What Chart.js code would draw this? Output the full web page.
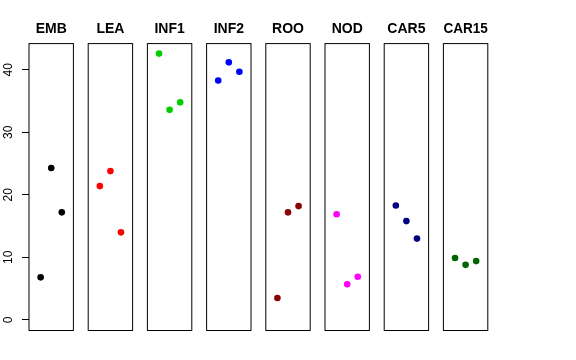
<!DOCTYPE html>
<html><head><meta charset="utf-8">
<script src="https://cdn.jsdelivr.net/npm/chart.js@4"></script>
<style>
html,body{margin:0;padding:0;background:#fff;width:576px;height:360px;overflow:hidden;position:relative}
canvas{position:absolute;top:0}
</style>
</head><body>
<script>
// ---- data ----
const categories = ['EMB', 'LEA', 'INF1', 'INF2', 'ROO', 'NOD', 'CAR5', 'CAR15'];
const EMB   = [6.8, 24.3, 17.2];
const LEA   = [21.4, 23.8, 14.0];
const INF1  = [42.6, 33.6, 34.8];
const INF2  = [38.3, 41.2, 39.7];
const ROO   = [3.5, 17.2, 18.2];
const NOD   = [16.9, 5.7, 6.9];
const CAR5  = [18.3, 15.8, 13.0];
const CAR15 = [9.9, 8.8, 9.4];
const seriesValues = [EMB, LEA, INF1, INF2, ROO, NOD, CAR5, CAR15];
const seriesColors = ['#000000', '#FF0000', '#00CD00', '#0000FF', '#8B0000', '#FF00FF', '#000080', '#006400'];
const yTicks = [0, 10, 20, 30, 40];
const yMin = -1.7, yMax = 44.2;

// ---- layout ----
const H = 360;
const firstLeft = 29, step = 59.2, panelW = 44.4;
const areaTop = 43.6, areaBottom = 330.5;

const boxPlugin = {
  id: 'box',
  beforeDatasetsDraw(chart) {
    const a = chart.chartArea, c = chart.ctx;
    c.save();
    c.strokeStyle = '#000';
    c.lineWidth = 1;
    c.strokeRect(a.left, a.top, a.right - a.left, a.bottom - a.top);
    c.restore();
  }
};

categories.forEach((name, i) => {
  const first = i === 0;
  const panelLeft = firstLeft + i * step;
  const canvasLeft = first ? 0 : Math.round(panelLeft) - 7;
  const canvasW = first ? 80 : 59;
  const padLeft = first ? 0 : panelLeft - canvasLeft;
  const padRight = canvasW - (panelLeft - canvasLeft) - panelW;

  const cv = document.createElement('canvas');
  cv.width = canvasW; cv.height = H;
  cv.style.left = canvasLeft + 'px';
  cv.style.width = canvasW + 'px';
  cv.style.height = H + 'px';
  document.body.appendChild(cv);

  const yScale = {
    type: 'linear', min: yMin, max: yMax,
    display: first,
    afterBuildTicks: s => { s.ticks = yTicks.map(v => ({value: v})); },
    border: {display: false},
    grid: {drawOnChartArea: false, drawTicks: true, tickLength: 7, color: '#000', tickColor: '#000'},
    ticks: {
      minRotation: 90, maxRotation: 90, crossAlign: 'center', padding: 7,
      color: '#000', font: {family: 'Liberation Sans', size: 12}
    }
  };
  if (first) yScale.afterFit = s => { s.width = 29; };

  new Chart(cv, {
    type: 'scatter',
    data: {
      datasets: [{
        data: seriesValues[i].map((v, j) => ({x: j + 1, y: v})),
        backgroundColor: seriesColors[i],
        borderWidth: 0,
        pointRadius: 3.3,
        pointHoverRadius: 3.3,
        showLine: false
      }]
    },
    options: {
      responsive: false,
      animation: false,
      devicePixelRatio: 1,
      layout: {padding: {left: padLeft, right: padRight, top: 0, bottom: H - areaBottom}},
      plugins: {
        legend: {display: false},
        tooltip: {enabled: false},
        title: {
          display: true,
          text: name,
          fullSize: false,
          color: '#000',
          font: {family: 'Liberation Sans', size: 14, weight: 'bold', lineHeight: 1.2},
          padding: {top: areaTop - 16.8 - 6, bottom: 6}
        }
      },
      scales: {
        x: {type: 'linear', min: -0.1, max: 4.1, display: false},
        y: yScale
      }
    },
    plugins: [boxPlugin]
  });
});
</script>
</body></html>
